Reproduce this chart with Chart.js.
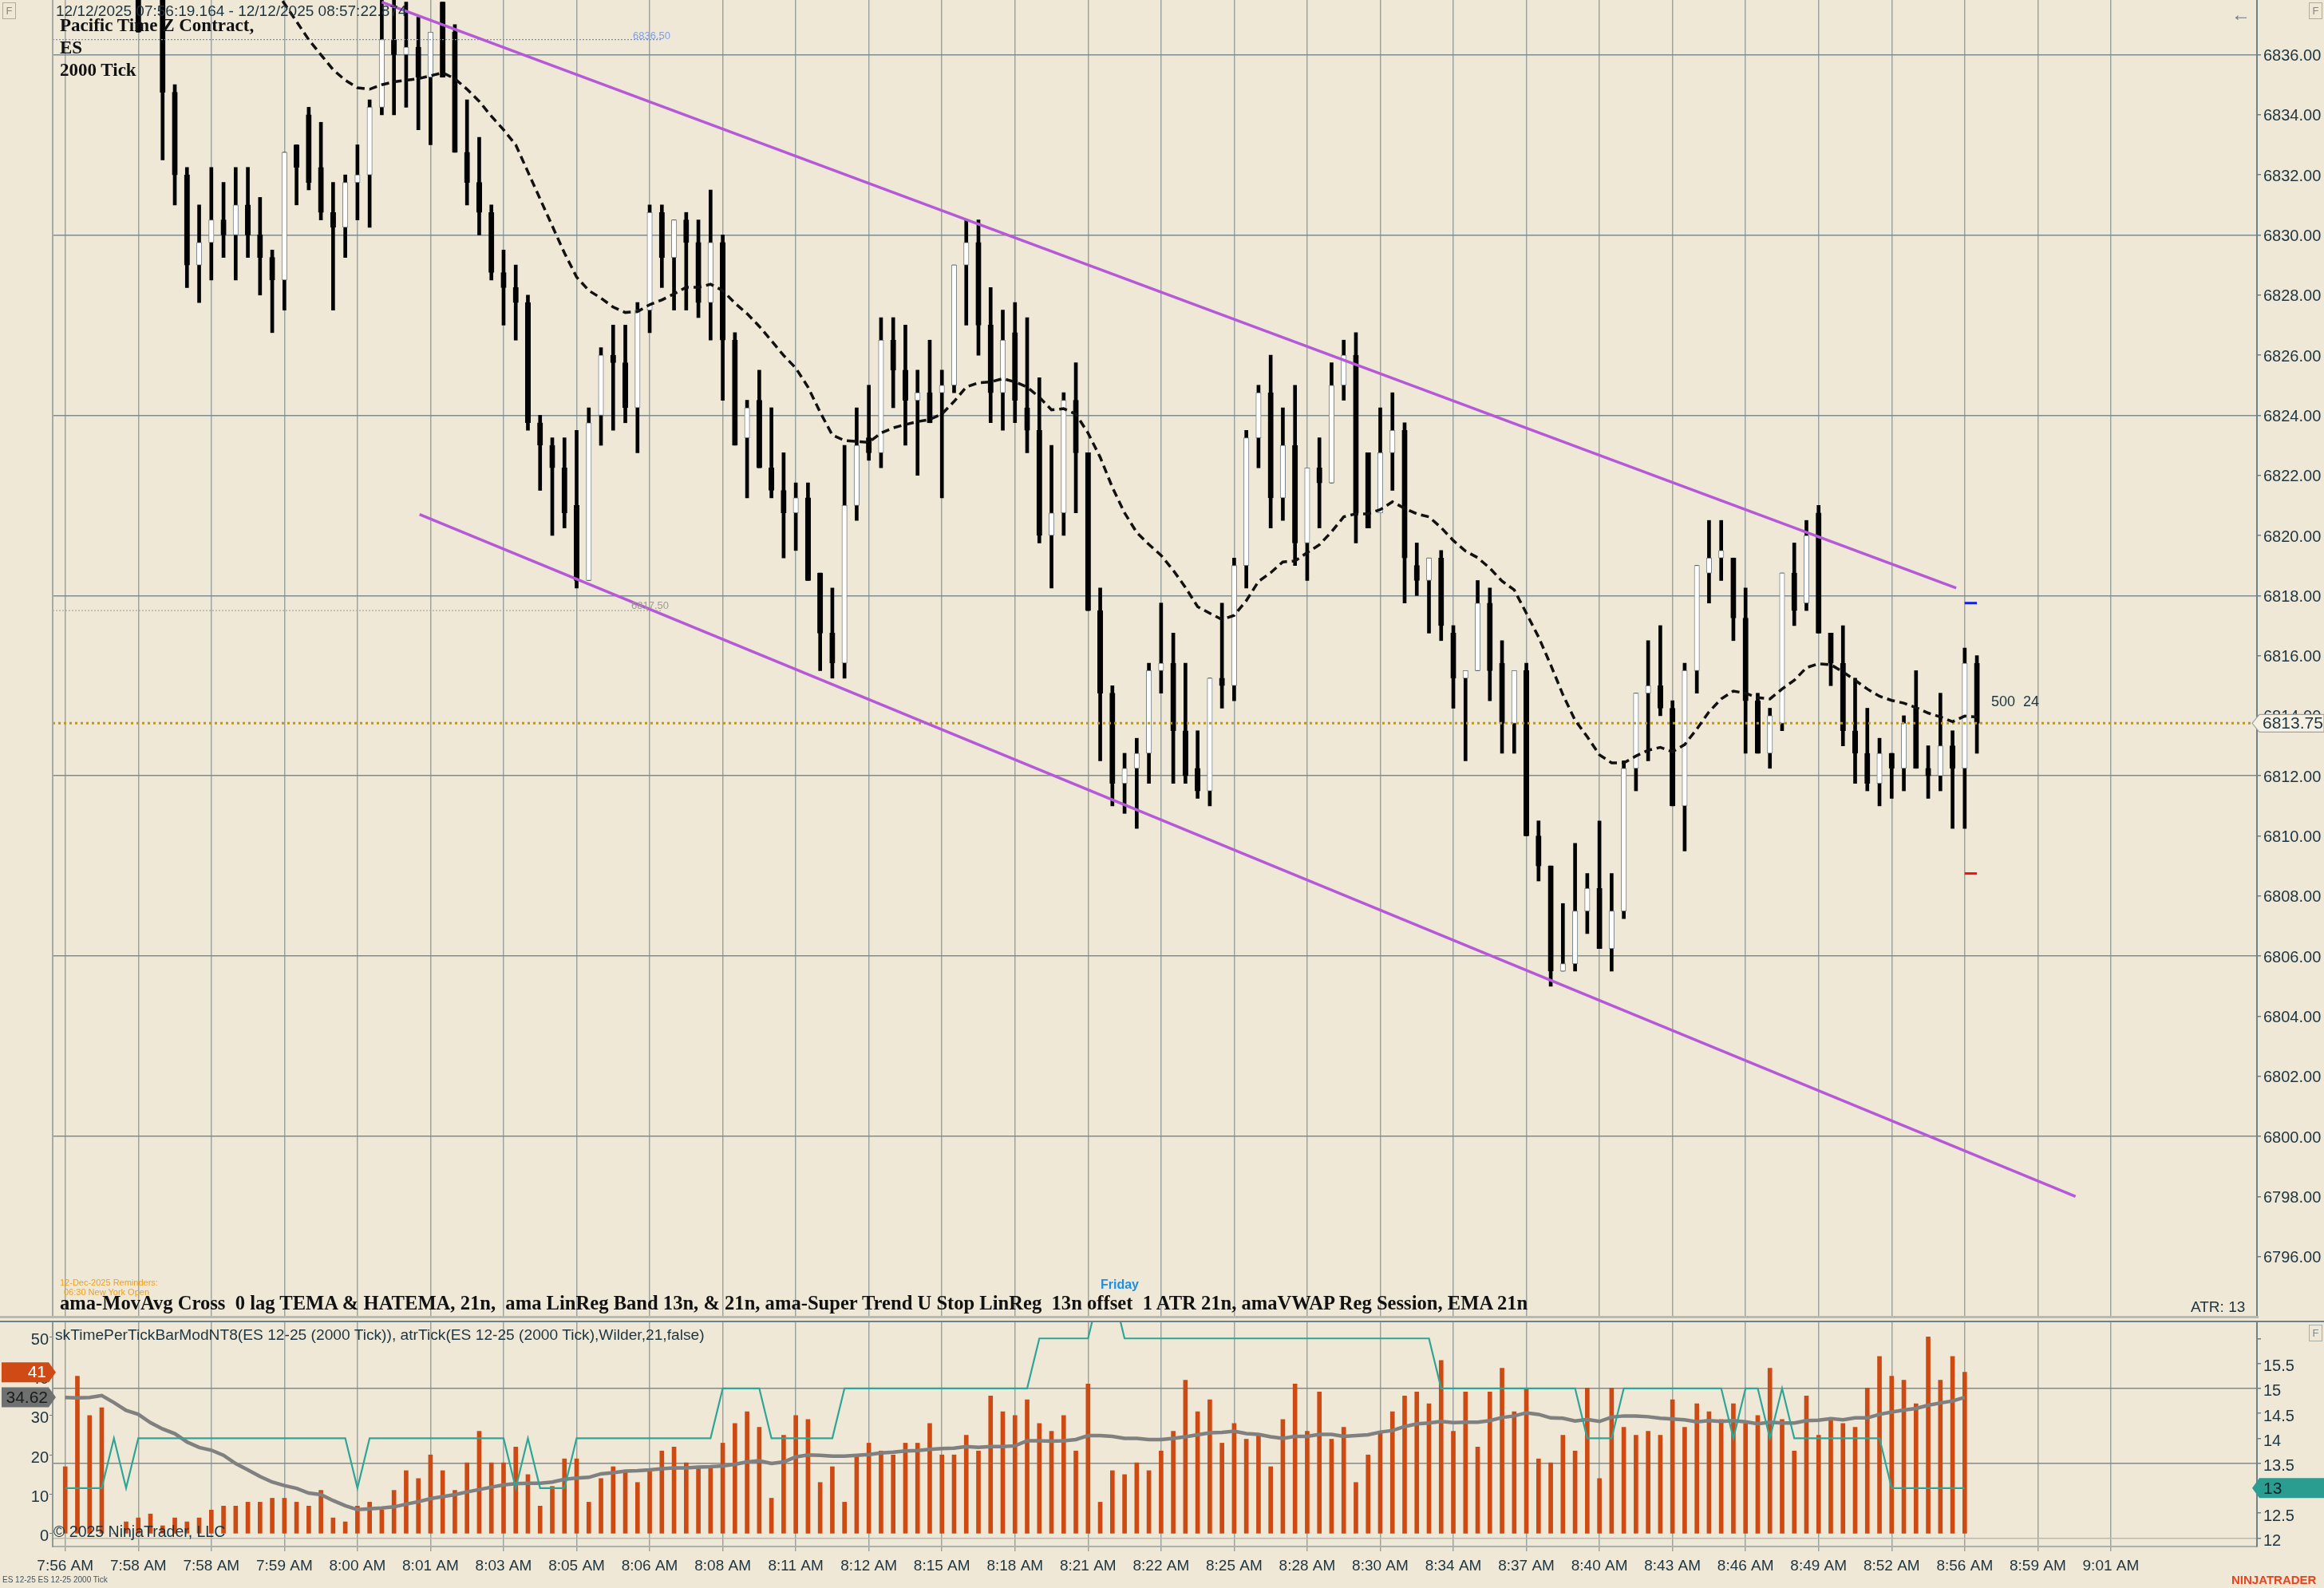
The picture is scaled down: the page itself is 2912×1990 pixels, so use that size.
<!DOCTYPE html>
<html><head><meta charset="utf-8">
<script src="https://cdn.jsdelivr.net/npm/chart.js@4.4.1/dist/chart.umd.min.js"></script>
<style>
html,body{margin:0;padding:0;background:#efe8d6;width:2912px;height:1990px;overflow:hidden;}
#wrap{position:relative;width:2912px;height:1990px;background:#efe8d6;overflow:hidden;}
canvas{position:absolute;left:0;}
.t{position:absolute;white-space:pre;line-height:1;font-family:"Liberation Sans",Arial,sans-serif;color:#1b3440;}
.s{font-family:"Liberation Serif","Times New Roman",serif;font-weight:bold;color:#111;}
.fb{position:absolute;width:15px;height:19px;border:1px solid #a7adab;color:#7c8a90;font:13px "Liberation Sans",Arial,sans-serif;text-align:center;line-height:19px;}
.ln{position:absolute;}
</style></head><body>
<div id="wrap">
<canvas id="c1" width="2912" height="1650" style="top:0;width:2912px;height:1650px"></canvas>
<canvas id="c2" width="2912" height="340" style="top:1650px;width:2912px;height:340px"></canvas>

<div class="ln" style="left:65px;top:0;width:2px;height:1650px;background:#a3aaa8"></div>
<div class="ln" style="left:0;top:1649px;width:2830px;height:3px;background:#b7bab2"></div>
<div class="ln" style="left:0;top:1655px;width:2912px;height:2px;background:#6f8088"></div>

<div class="t" style="left:70px;top:4px;font-size:19px">12/12/2025 07:56:19.164 - 12/12/2025 08:57:22.874</div>
<div class="t s" style="left:75px;top:20px;font-size:23px">Pacific Time Z Contract,</div>
<div class="t s" style="left:75px;top:48px;font-size:23px">ES</div>
<div class="t s" style="left:75px;top:76px;font-size:23px">2000 Tick</div>
<div class="t" style="left:793px;top:38px;font-size:13px;color:#7e9ee6">6836.50</div>
<div class="t" style="left:791px;top:752px;font-size:13px;color:#9c9c96">6817.50</div>
<div class="t" style="left:2495px;top:870px;font-size:18px">500  24</div>
<div class="t" style="left:2796px;top:6px;font-size:24px;color:#6a7a80">←</div>
<div class="fb" style="left:3px;top:3px">F</div>
<div class="fb" style="left:2893px;top:3px">F</div>
<div class="fb" style="left:2893px;top:1660px">F</div>

<div class="t" style="left:75px;top:1602px;font-size:11px;color:#f2a01c;font-family:'Liberation Sans Narrow','Liberation Sans',Arial,sans-serif">12-Dec-2025 Reminders:</div>
<div class="t" style="left:80px;top:1614px;font-size:11px;color:#f2a01c;font-family:'Liberation Sans Narrow','Liberation Sans',Arial,sans-serif">06:30 New York Open</div>
<div class="t" style="left:1379px;top:1602px;font-size:16px;font-weight:bold;color:#1e8ee0">Friday</div>
<div class="t s" style="left:75px;top:1621px;font-size:24.6px">ama-MovAvg Cross  0 lag TEMA &amp; HATEMA, 21n,  ama LinReg Band 13n, &amp; 21n, ama-Super Trend U Stop LinReg  13n offset  1 ATR 21n, amaVWAP Reg Session, EMA 21n</div>
<div class="t" style="left:2745px;top:1628px;font-size:19px">ATR: 13</div>
<div class="t" style="left:69px;top:1663px;font-size:19.2px">skTimePerTickBarModNT8(ES 12-25 (2000 Tick)), atrTick(ES 12-25 (2000 Tick),Wilder,21,false)</div>
<div class="t" style="left:67px;top:1910px;font-size:19.5px">© 2025 NinjaTrader, LLC</div>
<div class="t" style="left:3px;top:1975px;font-size:10px;color:#44545c">ES 12-25 ES 12-25 2000 Tick</div>
<div class="t" style="left:2796px;top:1972px;font-size:15px;font-weight:bold;color:#e8431d">NINJATRADER</div>
</div>

<script>
// ---------------- DATA ----------------
const timeLabels = ['7:56 AM','7:58 AM','7:58 AM','7:59 AM','8:00 AM','8:01 AM','8:03 AM','8:05 AM','8:06 AM','8:08 AM','8:11 AM','8:12 AM','8:15 AM','8:18 AM','8:21 AM','8:22 AM','8:25 AM','8:28 AM','8:30 AM','8:34 AM','8:37 AM','8:40 AM','8:43 AM','8:46 AM','8:49 AM','8:52 AM','8:56 AM','8:59 AM','9:01 AM'];
const barsPerLabel = 6;

const openP = [6843,6842,6840.5,6841.5,6839.5,6840,6839,6838.5,6838.5,6834.75,
6832,6829,6829.75,6830.5,6830,6831,6830,6829.25,6828.5,6833,
6834,6832.25,6830.75,6830.25,6831.75,6832,6834.25,6836.5,6836,6836.25,
6835.25,6837.75,6836.75,6832.75,6831.75,6830.75,6828.75,6828.25,6827.75,6823.75,
6823,6822.25,6821,6818.5,6824,6826,6825.75,6824.25,6827.5,6830.75,
6829.25,6830.5,6829.75,6827.75,6829.75,6826.5,6823.25,6824.5,6822.25,6821.5,
6820.75,6821.25,6818.75,6816.75,6815.75,6821,6823.25,6822.75,6826.5,6825.5,
6824.5,6824.75,6824.75,6825,6829,6829.75,6827,6824.75,6826.75,6824.25,
6823.5,6820,6820.75,6824.5,6822.75,6817.5,6814.75,6811.75,6812.25,6812.75,
6815.5,6815.75,6813.5,6812.25,6811.5,6815.25,6815,6819,6823.25,6824.75,
6821.25,6823,6819.75,6822.25,6821.75,6825,6826,6822.75,6820.75,6822.75,
6823.5,6819,6818.5,6819.25,6816.75,6815.25,6815.5,6817.75,6815.75,6813.75,
6815.5,6810,6809,6805.5,6805.75,6807.5,6808.25,6806.25,6807.5,6812.25,
6814.75,6815,6814.25,6811,6815.5,6818.75,6819.25,6819.25,6817.25,6814.5,
6812.75,6813.75,6818.75,6817.75,6820.75,6816.75,6815.75,6813.5,6812.75,6811.75,
6812.75,6812.25,6814.25,6812.25,6812,6813,6812.25,6815.75];
const highP = [6844.5,6843,6842,6842.5,6841,6841.5,6839.5,6840,6839,6835,
6832.25,6831,6832.25,6831.75,6832.25,6832.25,6831.25,6829.5,6832.75,6833,
6834.25,6833.75,6831.75,6832,6833,6834.5,6838.5,6838.5,6837.75,6837.25,
6836.75,6837.75,6837,6834.5,6833.25,6831,6829.5,6829,6828,6824,
6823.25,6823.25,6823.5,6824.25,6826.25,6827,6827,6827.75,6831,6831,
6830.5,6830.75,6830.5,6831.5,6830,6826.75,6824.5,6825.5,6824.25,6822.75,
6821.75,6821.75,6818.75,6818.25,6823,6824.25,6825,6827.25,6827.25,6827,
6825.5,6826.5,6825.5,6829,6830.5,6830.5,6828.25,6827.5,6827.75,6827.25,
6825.25,6823,6824.75,6825.75,6822.75,6818.25,6815,6812.75,6813.25,6815.75,
6817.75,6816.75,6815.75,6813.5,6815.25,6817.75,6819.25,6823.5,6825,6826,
6824.25,6825,6822.25,6823.25,6825.75,6826.5,6826.75,6822.75,6824.25,6824.75,
6823.75,6819.75,6819.25,6819.5,6817,6815.5,6818.5,6818.25,6816.5,6815.5,
6815.75,6810.5,6809,6807.75,6809.75,6808.75,6810.5,6808.75,6812.5,6814.75,
6816.5,6817,6814.5,6815.75,6819,6820.5,6820.5,6819.25,6818.25,6814.75,
6814.25,6818.75,6819.75,6820.5,6821,6816.75,6817,6815.25,6814.25,6813.25,
6812.75,6814,6815.5,6813,6814.75,6813.5,6816.25,6816];
const lowP = [6841.5,6840,6839.5,6839,6838.5,6838.75,6836.75,6838,6832.5,6831,
6828.25,6827.75,6828.5,6829.25,6828.5,6829.25,6828,6826.75,6827.5,6831,
6831.5,6830.5,6827.5,6829.25,6830.5,6830.25,6834,6834,6834.25,6833.5,
6833,6835.25,6832.75,6831,6830,6828.5,6827,6826.5,6823.5,6821.5,
6820,6820.25,6818.25,6818.5,6823,6823.5,6823.75,6822.75,6826.75,6828.25,
6827.5,6827.5,6827.25,6826.5,6824.5,6823,6821.25,6822.25,6821.25,6819.25,
6819.5,6818.5,6815.5,6815.25,6815.25,6820.5,6822.5,6822.25,6824.25,6823,
6822,6823.75,6821.25,6824.75,6827,6826,6823.75,6823.5,6823.75,6822.75,
6819.75,6818.25,6820,6820.75,6817.5,6812.5,6811,6810.75,6810.25,6811.75,
6814.75,6811.75,6811.75,6811.25,6811,6814.25,6814.5,6818.25,6822.25,6820.25,
6820.5,6819,6818.5,6820.25,6821.75,6824.5,6819.75,6820.25,6820.75,6821.5,
6817.75,6818,6816.75,6816.5,6814.25,6812.5,6815.5,6814.5,6812.75,6812.75,
6810,6808.5,6805,6805.5,6805.5,6806.75,6806.25,6805.5,6807.25,6811.5,
6812.5,6814,6811,6809.5,6814.75,6817.75,6818.5,6816.5,6812.75,6812.75,
6812.25,6813.5,6817,6817.5,6816.75,6815,6813,6811.75,6811.5,6811,
6811.25,6811.5,6812.25,6811.25,6811.5,6810.25,6810.25,6812.75];
const closeP = [6842,6840.5,6841.5,6839.5,6840,6839,6836.75,6839.5,6834.75,6832,
6829,6829.75,6830.5,6830,6831,6830,6829.25,6828.5,6832.75,6832.25,
6831.75,6830.75,6830.25,6831.75,6832,6834.25,6836.5,6836,6836.25,6835.25,
6836.75,6835.25,6832.75,6831.75,6830.75,6828.75,6828.25,6827.75,6823.75,6823,
6822.25,6820.75,6818.5,6823.75,6826,6825.75,6824.25,6827.5,6830.75,6829.25,
6830.5,6829.75,6827.75,6829.75,6826.5,6823,6824.25,6822.25,6821.5,6820.75,
6821.25,6818.5,6816.75,6815.75,6821,6823,6822.75,6826.5,6825.5,6824.5,
6824.75,6823.75,6825,6829,6829.75,6827,6824.75,6826.5,6824.5,6823.5,
6820,6820.75,6824.5,6822.75,6817.5,6814.75,6811.75,6812.25,6812.75,6815.5,
6815.75,6813.5,6812,6811.5,6815.25,6815,6819,6823.25,6824.75,6821.25,
6823,6819.75,6822.25,6821.75,6825,6826,6820.75,6820.25,6822.75,6823.5,
6819.25,6818.5,6819.25,6817,6815.25,6815.5,6817.75,6815.5,6813.75,6815.5,
6810,6809,6805.5,6805.75,6807.5,6808.25,6806.25,6807.5,6812.25,6814.75,
6815,6814.25,6811,6815.5,6819,6819.25,6819.5,6817.25,6814.5,6812.75,
6814,6818.75,6817.5,6820,6816.75,6815.75,6813.5,6812.75,6811.75,6812.75,
6812.25,6813.75,6812.25,6812,6813,6812.25,6815.75,6813.75];
const emaLine = [6843.6,6843.4,6843.2,6842.9,6842.6,6842.3,6842.0,6841.7,6841.3,6840.9,
6840.5,6840.1,6839.8,6839.5,6839.2,6838.9,6838.6,6838.3,6837.7,6837.1,
6836.5,6836.0,6835.5,6835.15,6834.9,6834.85,6835.0,6835.1,6835.15,6835.2,
6835.3,6835.4,6835.2,6834.85,6834.45,6833.95,6833.5,6833.0,6832.1,6831.2,
6830.3,6829.4,6828.6,6828.15,6827.9,6827.6,6827.42,6827.45,6827.68,6827.84,
6828.04,6828.26,6828.26,6828.36,6828.15,6827.73,6827.38,6826.96,6826.48,6825.99,
6825.57,6824.94,6824.1,6823.34,6823.16,6823.13,6823.1,6823.41,6823.58,6823.69,
6823.79,6823.86,6824.04,6824.46,6824.94,6825.08,6825.11,6825.22,6825.11,6824.94,
6824.6,6824.18,6824.22,6824.04,6823.41,6822.6,6821.6,6820.75,6820.1,6819.7,
6819.34,6818.84,6818.27,6817.63,6817.41,6817.2,6817.34,6817.83,6818.47,6818.76,
6819.12,6819.15,6819.43,6819.69,6820.12,6820.62,6820.72,6820.72,6820.86,6821.12,
6820.9,6820.72,6820.62,6820.26,6819.83,6819.48,6819.26,6818.91,6818.48,6818.19,
6817.41,6816.62,6815.69,6814.7,6813.85,6813.3,6812.7,6812.43,6812.43,6812.66,
6812.85,6812.95,6812.8,6813.04,6813.56,6814.13,6814.56,6814.82,6814.75,6814.6,
6814.56,6814.89,6815.18,6815.6,6815.73,6815.7,6815.46,6815.18,6814.89,6814.65,
6814.51,6814.42,6814.27,6814.09,6813.96,6813.8,6813.99,6813.96];

// drawn channel lines: [barIndex, price]
const upperChannel = [[26.0, 6837.75], [155.3, 6818.25]];
const lowerChannel = [[29.1, 6820.7], [165.1, 6798.0]];
// horizontal drawn levels
const levelBlue = 6836.5, levelGrey = 6817.5, levelsEndBar = 49;
const targetHigh = 6817.75, targetLow = 6808.75;

// lower panel
const timePerTick = [17,40,30,32,0,3,4,5,2,4,3,4,6,7,7,8,8,9,9,8,7,11,4,3,7,8,6,11,16,14,20,16,11,18,26,18,18,22,15,7,12,19,19,8,14,17,16,13,16,21,22,18,17,17,23,28,31,27,9,25,30,
29,13,17,8,20,23,21,20,23,23,28,20,20,25,21,35,31,30,34,28,26,30,21,38,8,16,15,18,16,21,26,39,31,34,23,28,24,25,17,29,38,26,36,24,27,13,20,26,31,35,
36,33,44,26,36,22,36,42,31,37,19,18,25,21,37,14,37,27,25,26,25,34,27,33,31,29,33,28,30,42,29,21,35,25,29,28,27,37,45,40,39,33,50,39,45,41];
const timePerTickAvg = [34.6,34.5,34.6,35.1,33.3,31.3,30.3,28.2,26.6,25.4,23.3,21.9,21.2,19.9,17.8,16.2,14.5,13.1,12.2,11.5,10.3,9.9,8.4,7.1,6.1,6.3,6.5,6.8,7.5,8.1,8.9,9.4,9.9,10.6,11.2,11.8,12.4,12.7,12.8,12.8,13.1,13.8,14.1,14.3,15.2,15.5,15.9,16.0,16.2,16.5,16.7,16.7,16.9,17.0,17.2,17.6,18.2,18.5,17.8,18.2,19.5,
20.0,19.9,19.7,19.7,19.9,20.1,20.5,20.7,21.0,21.1,21.4,21.6,21.7,22.1,21.9,22.1,22.1,22.3,23.6,23.6,23.5,23.6,23.9,24.9,24.9,24.7,24.2,24.2,23.9,23.9,24.2,24.6,25.1,25.6,25.7,26.0,25.4,25.2,24.6,24.2,24.7,24.7,25.2,25.2,24.7,24.9,25.1,25.8,26.2,27.2,
27.9,28.1,28.5,28.2,28.3,28.3,28.7,29.5,29.9,30.7,30.3,29.4,29.3,28.6,29.0,28.5,29.6,29.9,29.9,29.7,29.3,29.1,28.9,28.4,28.7,28.5,28.7,28.4,27.9,28.3,28.1,28.1,28.7,28.8,29.2,28.9,29.4,29.4,30.3,30.9,31.4,31.8,32.6,33.2,33.7,34.62];
const atrTick = [13,13,13,13,14,13,14,14,14,14,14,14,14,14,14,14,14,14,14,14,14,14,14,14,13,14,14,14,14,14,14,14,14,14,14,14,14,13,14,13,13,13,14,14,14,14,14,14,14,14,14,14,14,14,15,15,15,15,14,14,14,14,14,14,
15,15,15,15,15,15,15,15,15,15,15,15,15,15,15,15,16,16,16,16,16,17,17,16,16,16,16,16,16,16,16,16,16,16,16,16,16,16,16,16,16,16,16,16,16,16,16,16,16,15,15,15,15,15,15,15,15,15,15,15,15,
14,14,14,15,15,15,15,15,15,15,15,15,14,15,15,14,15,14,14,14,14,14,14,14,14,13,13,13,13,13,13,13];

const priceTicks = [6836,6834,6832,6830,6828,6826,6824,6822,6820,6818,6816,6814,6812,6810,6808,6806,6804,6802,6800,6798,6796];
const priceGridLevels = [6836,6830,6824,6818,6812,6806,6800];
const tptTicks = [0,10,20,30,40,50];
const atrTicks = [12,12.5,13,13.5,14,14.5,15,15.5,16];
const atrGridLevels = [12,13.5,15];

// ---------------- LAYOUT / STYLE ----------------
const X_MIN = -1.03, X_MAX = 180.0;
const P_MIN = 6794.0, P_MAX = 6837.82;
const SANS = '"Liberation Sans", Arial, sans-serif';
const TXT = '#1b3440';
const GRID_V = '#9ba4a2';
const GRID_H = '#7f8c8f';
const AXIS = '#6f8088';

const idx = closeP.map((_, i) => i);
const gridIdx = timeLabels.map((_, k) => k * barsPerLabel);

const wickData = idx.map(i => ({x: i, y: [lowP[i], highP[i]]}));
const bodyData = idx.map(i => ({x: i, y: [Math.min(openP[i], closeP[i]), Math.max(openP[i], closeP[i])]}));
const isUp = idx.map(i => closeP[i] > openP[i]);
const lastPrice = closeP[closeP.length - 1];

function noPad(s) { s.paddingTop = 0; s.paddingBottom = 0; s.paddingLeft = 0; s.paddingRight = 0; }

function tag(ctx, x0, x1, y, h, dir, fill, stroke, text, color, textX, align) {
  ctx.save();
  ctx.beginPath();
  const p = 9;
  if (dir === 'left') {
    ctx.moveTo(x0, y); ctx.lineTo(x0 + p, y - h / 2); ctx.lineTo(x1, y - h / 2);
    ctx.lineTo(x1, y + h / 2); ctx.lineTo(x0 + p, y + h / 2);
  } else {
    ctx.moveTo(x0, y - h / 2); ctx.lineTo(x1 - p, y - h / 2); ctx.lineTo(x1, y);
    ctx.lineTo(x1 - p, y + h / 2); ctx.lineTo(x0, y + h / 2);
  }
  ctx.closePath();
  ctx.fillStyle = fill; ctx.fill();
  if (stroke) { ctx.strokeStyle = stroke; ctx.lineWidth = 1.2; ctx.stroke(); }
  ctx.fillStyle = color; ctx.font = '21px ' + SANS;
  ctx.textBaseline = 'middle'; ctx.textAlign = align;
  ctx.fillText(text, textX, y + 1);
  ctx.restore();
}

const priceTagPlugin = {
  id: 'priceTag',
  afterDraw(chart) {
    const ys = chart.scales.y;
    const y = ys.getPixelForValue(lastPrice);
    tag(chart.ctx, ys.left - 6, 2912, y, 22, 'left', '#f6f1e3', '#9aa4a6', lastPrice.toFixed(2), TXT, ys.left + 7, 'left');
  }
};

const lowerTagPlugin = {
  id: 'lowerTags',
  afterDraw(chart) {
    const yl = chart.scales.yL, yr = chart.scales.yR;
    const ctx = chart.ctx;
    const vLast = timePerTick[timePerTick.length - 1];
    const aLast = timePerTickAvg[timePerTickAvg.length - 1];
    const atrLast = atrTick[atrTick.length - 1];
    tag(ctx, 2, yl.right + 4, yl.getPixelForValue(vLast), 25, 'right', '#cf4a14', null, String(vLast), '#ffffff', 58, 'right');
    tag(ctx, 2, yl.right + 4, yl.getPixelForValue(aLast), 25, 'right', '#6f7171', null, aLast.toFixed(2), '#1a1a1a', 60, 'right');
    tag(ctx, yr.left - 6, 2912, yr.getPixelForValue(atrLast), 25, 'left', '#2a9d90', null, String(atrLast), '#10262c', yr.left + 8, 'left');
  }
};

const xScaleBase = {
  type: 'linear', min: X_MIN, max: X_MAX, offset: false,
  afterBuildTicks: s => { s.ticks = gridIdx.map(v => ({value: v})); },
  grid: {offset: false, color: GRID_V, lineWidth: 1.5}
};

// ---------------- PRICE CHART ----------------
new Chart(document.getElementById('c1'), {
  type: 'bar',
  data: {
    datasets: [
      {type: 'line', label: 'Upper channel', data: upperChannel.map(p => ({x: p[0], y: p[1]})),
        borderColor: '#b559d9', borderWidth: 3.5, pointRadius: 0, order: 0},
      {type: 'line', label: 'Lower channel', data: lowerChannel.map(p => ({x: p[0], y: p[1]})),
        borderColor: '#b559d9', borderWidth: 3.5, pointRadius: 0, order: 0},
      {type: 'line', label: 'EMA 21', data: idx.map(i => ({x: i, y: emaLine[i]})),
        borderColor: '#111111', borderWidth: 3.5, borderDash: [10, 6], pointRadius: 0, tension: 0, order: 1},
      {type: 'line', label: 'Last', data: [{x: X_MIN, y: lastPrice}, {x: X_MAX, y: lastPrice}],
        borderColor: '#c4960e', borderWidth: 3, borderDash: [3, 4], pointRadius: 0, order: 2},
      {type: 'line', label: 'Level 1', data: [{x: X_MIN, y: levelBlue}, {x: levelsEndBar, y: levelBlue}],
        borderColor: '#6f8ee6', borderWidth: 1.2, borderDash: [2, 2], pointRadius: 0, order: 2},
      {type: 'line', label: 'Level 2', data: [{x: X_MIN, y: levelGrey}, {x: levelsEndBar, y: levelGrey}],
        borderColor: '#a8a8a2', borderWidth: 1.2, borderDash: [2, 2], pointRadius: 0, order: 2},
      {type: 'line', label: 'Target high', data: [{x: idx.length - 2, y: targetHigh}, {x: idx.length - 1, y: targetHigh}],
        borderColor: '#1020e0', borderWidth: 3, pointRadius: 0, order: 2},
      {type: 'line', label: 'Target low', data: [{x: idx.length - 2, y: targetLow}, {x: idx.length - 1, y: targetLow}],
        borderColor: '#f01010', borderWidth: 3, pointRadius: 0, order: 2},
      {type: 'bar', label: 'Body', data: bodyData, grouped: false, barThickness: 6.5, minBarLength: 2,
        backgroundColor: isUp.map(u => u ? '#ffffff' : '#000000'),
        borderColor: isUp.map(u => u ? '#7b8589' : '#000000'),
        borderWidth: 1, borderSkipped: false, order: 3},
      {type: 'bar', label: 'Wick', data: wickData, grouped: false, barThickness: 4,
        backgroundColor: '#000000', borderWidth: 0, order: 4}
    ]
  },
  options: {
    responsive: false, animation: false, devicePixelRatio: 1,
    layout: {padding: {left: 66, right: 0, top: 0, bottom: 0}},
    plugins: {legend: {display: false}, tooltip: {enabled: false}},
    scales: {
      x: Object.assign({}, xScaleBase, {
        border: {display: false},
        grid: {offset: false, color: GRID_V, lineWidth: 1.5, drawTicks: false},
        ticks: {display: false},
        afterFit: s => { s.height = 0; noPad(s); }
      }),
      y: {
        position: 'right', min: P_MIN, max: P_MAX,
        afterBuildTicks: s => { s.ticks = priceTicks.map(v => ({value: v})); },
        grid: {
          color: c => priceGridLevels.includes(c.tick && c.tick.value) ? GRID_H : 'rgba(0,0,0,0)',
          lineWidth: 1.5, tickLength: 5, tickColor: AXIS
        },
        border: {display: true, color: AXIS, width: 2},
        ticks: {color: TXT, font: {family: SANS, size: 20}, padding: 3, labelOffset: 2, callback: v => Number(v).toFixed(2)},
        afterFit: s => { s.width = 84; noPad(s); }
      }
    }
  },
  plugins: [priceTagPlugin]
});

// ---------------- INDICATOR CHART ----------------
const lowerIdx = timePerTick.map((_, i) => i);
new Chart(document.getElementById('c2'), {
  type: 'bar',
  data: {
    datasets: [
      {type: 'line', label: 'atrTick', yAxisID: 'yR', data: lowerIdx.map(i => ({x: i, y: atrTick[i]})),
        borderColor: '#2ea596', borderWidth: 2.2, pointRadius: 0, tension: 0, order: 0},
      {type: 'line', label: 'avg', yAxisID: 'yL', data: lowerIdx.map(i => ({x: i, y: timePerTickAvg[i]})),
        borderColor: '#808080', borderWidth: 4.5, pointRadius: 0, tension: 0, order: 1},
      {type: 'bar', label: 'skTimePerTick', yAxisID: 'yL', data: lowerIdx.map(i => ({x: i, y: timePerTick[i]})),
        grouped: false, barThickness: 5, backgroundColor: '#cd4a13', borderWidth: 0, order: 2}
    ]
  },
  options: {
    responsive: false, animation: false, devicePixelRatio: 1,
    layout: {padding: {left: 0, right: 0, top: 6, bottom: 0}},
    plugins: {legend: {display: false}, tooltip: {enabled: false}},
    scales: {
      x: Object.assign({}, xScaleBase, {
        border: {display: true, color: '#aab0aa', width: 2},
        grid: {offset: false, color: GRID_V, lineWidth: 1.5, tickLength: 6, tickColor: GRID_V},
        ticks: {color: TXT, font: {family: SANS, size: 19}, padding: 7, maxRotation: 0, autoSkip: false,
          callback: v => timeLabels[Math.round(v / barsPerLabel)] || ''},
        afterFit: s => { s.height = 52; noPad(s); }
      }),
      yL: {
        position: 'left', min: -3.27, max: 53.9,
        afterBuildTicks: s => { s.ticks = tptTicks.map(v => ({value: v})); },
        grid: {drawOnChartArea: false, tickLength: 4, tickColor: AXIS},
        border: {display: true, color: '#8e9a9a', width: 2},
        ticks: {color: TXT, font: {family: SANS, size: 20}, padding: 1, labelOffset: 4},
        afterFit: s => { s.width = 66; noPad(s); }
      },
      yR: {
        position: 'right', min: 11.83, max: 16.34,
        afterBuildTicks: s => { s.ticks = atrTicks.map(v => ({value: v})); },
        grid: {
          color: c => atrGridLevels.includes(c.tick && c.tick.value) ? (c.tick.value === 12 ? '#b9bbb2' : GRID_H) : 'rgba(0,0,0,0)',
          lineWidth: 1.5, tickLength: 5, tickColor: AXIS
        },
        border: {display: true, color: AXIS, width: 2},
        ticks: {color: TXT, font: {family: SANS, size: 20}, padding: 3, labelOffset: 4,
          callback: v => (v >= 16 ? '' : String(v))},
        afterFit: s => { s.width = 84; noPad(s); }
      }
    }
  },
  plugins: [lowerTagPlugin]
});
</script>
</body></html>
